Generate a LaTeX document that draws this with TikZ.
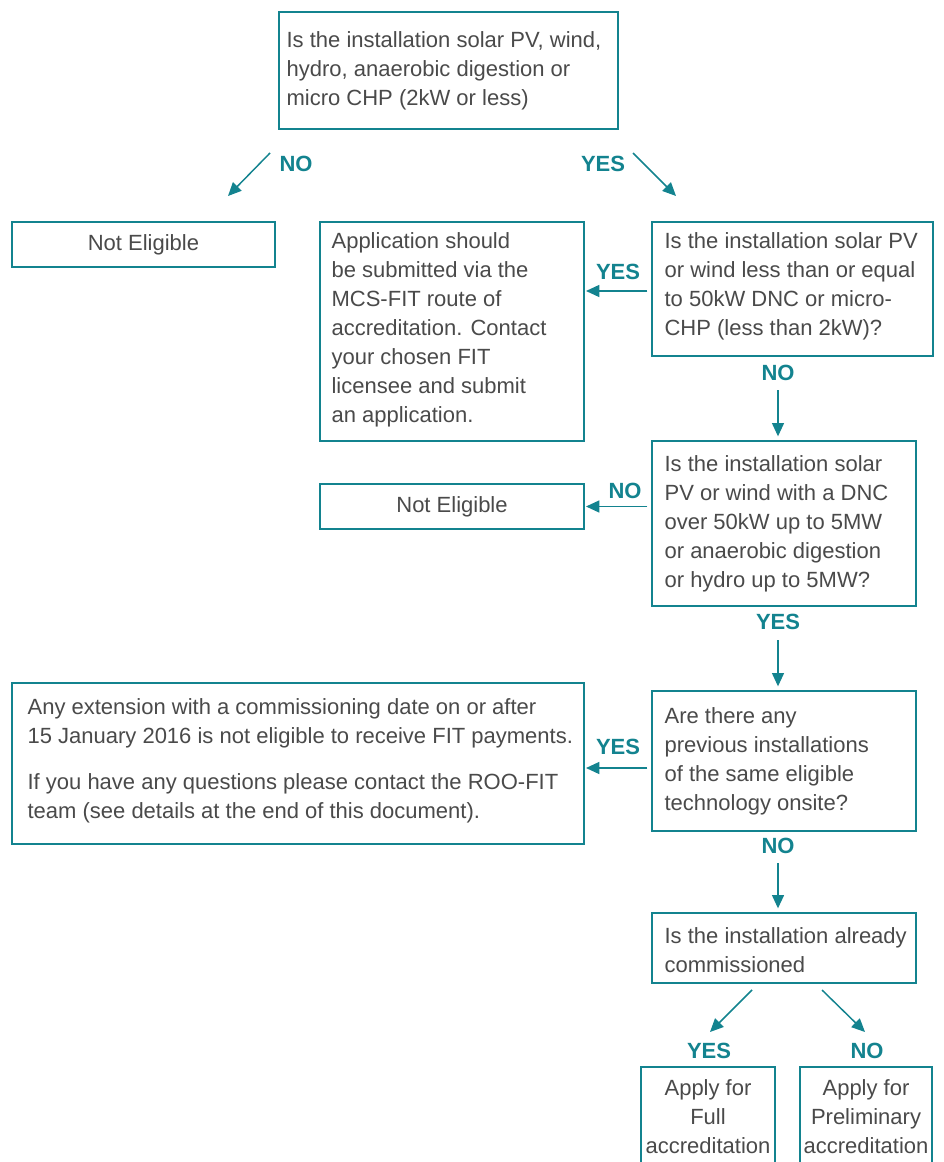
\documentclass[tikz,border=0pt]{standalone}
\usepackage{fontspec}
\setmainfont{Liberation Sans}
\usetikzlibrary{arrows.meta}
\definecolor{teal1}{HTML}{13838F}
\definecolor{txt}{HTML}{4A4A4A}
\begin{document}
\begin{tikzpicture}[x=0.75pt,y=-0.75pt,
  box/.style={draw=teal1, line width=1pt, rectangle, inner sep=0pt},
  tx/.style={text=txt, inner sep=0pt, font=\fontsize{16.5pt}{21.75pt}\selectfont},
  lbl/.style={text=teal1, font=\fontsize{16.5pt}{19pt}\selectfont\bfseries, inner sep=0pt},
  arr/.style={draw=teal1, line width=1.1pt, -{Triangle[length=10pt,width=9pt]}}
]
\clip (0,0) rectangle (944,1162);
\fill[white] (0,0) rectangle (944,1162);

% boxes
\node[box, minimum width=254.25pt, minimum height=87.75pt] (top) at (448.5,70.5) {};
\node[box, minimum width=197.25pt, minimum height=33.75pt] (ne1) at (143.5,244.5) {};
\node[box, minimum width=198pt, minimum height=164.25pt] (app) at (452,331.5) {};
\node[box, minimum width=210.75pt, minimum height=100.5pt] (q2) at (792.5,289) {};
\node[box, minimum width=198pt, minimum height=33.75pt] (ne2) at (452,506.5) {};
\node[box, minimum width=198pt, minimum height=123.75pt] (q3) at (784,523.5) {};
\node[box, minimum width=429pt, minimum height=120.75pt] (ext) at (298,763.5) {};
\node[box, minimum width=198pt, minimum height=105pt] (q4) at (784,761) {};
\node[box, minimum width=198pt, minimum height=52.5pt] (q5) at (784,948) {};
\node[box, minimum width=100.5pt, minimum height=75pt] (full) at (708,1117) {};
\node[box, minimum width=99pt, minimum height=75pt] (pre) at (866,1117) {};

% texts
\node[tx, align=left, anchor=west] (topT) at ([xshift=6pt]top.west)
  {Is the installation solar PV, wind,\\hydro, anaerobic digestion or\\micro CHP (2kW or less)};
\node[tx, align=center] (ne1T) at (ne1.center) {Not Eligible};
\node[tx, align=left, anchor=west] (appT) at ([xshift=9pt,yshift=1.1pt]app.west)
  {Application should\\be submitted via the\\MCS-FIT route of\\accreditation. Contact\\your chosen FIT\\licensee and submit\\an application.};
\node[tx, align=left, anchor=west] (q2T) at ([xshift=9.75pt,yshift=2pt]q2.west)
  {Is the installation solar PV\\or wind less than or equal\\to 50kW DNC or micro-\\CHP (less than 2kW)?};
\node[tx, align=center] (ne2T) at (ne2.center) {Not Eligible};
\node[tx, align=left, anchor=west] (q3T) at ([xshift=9.75pt]q3.west)
  {Is the installation solar\\PV or wind with a DNC\\over 50kW up to 5MW\\or anaerobic digestion\\or hydro up to 5MW?};
\node[tx, align=left, anchor=west] (extT) at ([xshift=12pt,yshift=1.9pt]ext.west)
  {Any extension with a commissioning date on or after\\15 January 2016 is not eligible to receive FIT payments.\\[12.75pt]If you have any questions please contact the ROO-FIT\\team (see details at the end of this document).};
\node[tx, align=left, anchor=west] (q4T) at ([xshift=9.75pt]q4.west)
  {Are there any\\previous installations\\of the same eligible\\technology onsite?};
\node[tx, align=left, anchor=west] (q5T) at ([xshift=9.75pt,yshift=-1.9pt]q5.west)
  {Is the installation already\\commissioned};
\node[tx, align=center] (fullT) at (full.center) {Apply for\\Full\\accreditation};
\node[tx, align=center] (preT) at (pre.center) {Apply for\\Preliminary\\accreditation};

% labels
\node[lbl] (l1) at (296,164) {NO};
\node[lbl] (l2) at (603,164) {YES};
\node[lbl] (l3) at (618,272) {YES};
\node[lbl] (l4) at (778,373) {NO};
\node[lbl] (l5) at (625,491) {NO};
\node[lbl] (l6) at (778,622) {YES};
\node[lbl] (l7) at (618,747) {YES};
\node[lbl] (l8) at (778,846) {NO};
\node[lbl] (l9) at (709,1051) {YES};
\node[lbl] (l10) at (867,1051) {NO};

% free ends
\coordinate (a1s) at (270,153);
\coordinate (a1e) at (228,196);
\coordinate (a2s) at (633,153);
\coordinate (a2e) at (676,196);
\coordinate (a9s) at (752,990);
\coordinate (a9e) at (710,1032);
\coordinate (a10s) at (822,990);
\coordinate (a10e) at (865,1032);

\draw[arr] (a1s) -- (a1e);
\draw[arr] (a2s) -- (a2e);
\draw[arr, shorten <=3pt, shorten >=1pt] ([yshift=-1.5pt]q2.west) -- ([yshift=-1.5pt]q2.west -| app.east);
\draw[arr, shorten >=3pt] ([yshift=-12.75pt]l4.center) -- (l4.center |- q3.north);
\draw[arr, shorten <=3pt, shorten >=1pt] (ne2.east -| q3.west) -- (ne2.east);
\draw[arr, shorten >=3pt] ([yshift=-13.5pt]l6.center) -- (l6.center |- q4.north);
\draw[arr, shorten <=3pt, shorten >=1pt] ([yshift=-5.25pt]q4.west) -- ([yshift=-5.25pt]q4.west -| ext.east);
\draw[arr, shorten >=3pt] ([yshift=-12.75pt]l8.center) -- (l8.center |- q5.north);
\draw[arr] (a9s) -- (a9e);
\draw[arr] (a10s) -- (a10e);
\end{tikzpicture}
\end{document}
